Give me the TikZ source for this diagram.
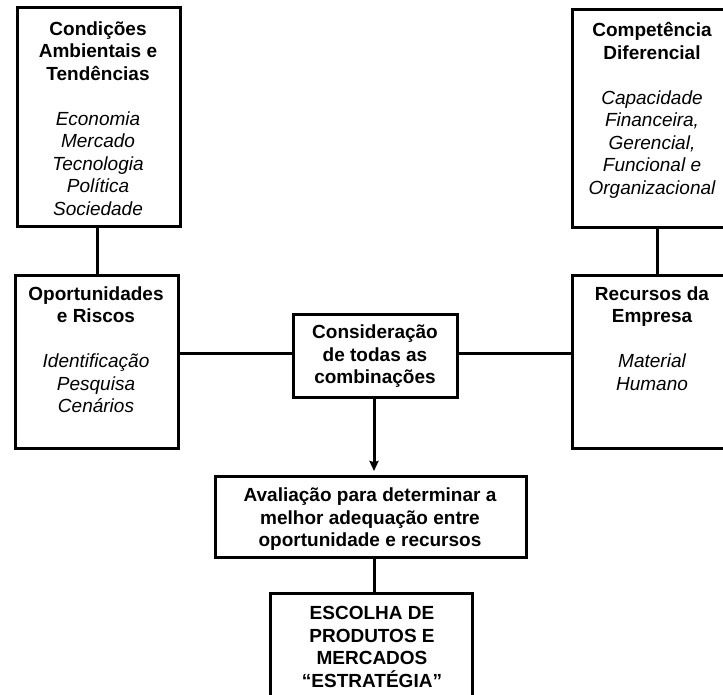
\documentclass[tikz,border=0pt]{standalone}
\usepackage{fontspec}
\setmainfont{Liberation Sans}
\usetikzlibrary{arrows.meta}
\begin{document}
\begin{tikzpicture}[x=1pt,y=-1pt,
  box/.style={draw=black, line width=3pt, fill=white, inner sep=0pt, outer sep=0pt},
  txt/.style={anchor=north, align=center, inner sep=0pt, text=black,
              font=\fontsize{19}{22.5}\selectfont},
  link/.style={line width=3pt, line cap=rect},
  arrow/.style={line width=3pt, -{Stealth[length=10pt,width=9pt,inset=1pt]}, shorten >=5pt}
]
\newcommand\firstline{\rule{0pt}{18pt}}
\useasboundingbox (0,0) rectangle (723,695);
\clip (0,0) rectangle (723,695);

% guide coordinates for the connectors
\coordinate (hl) at (0,353);
\coordinate (vl) at (374,0);
\coordinate (condx) at (97,0);
\coordinate (compx) at (657,0);

% boxes
\node[box, anchor=north west, minimum width=163pt, minimum height=219pt] (cond) at (17,8) {};
\node[box, anchor=north west, minimum width=168pt, minimum height=218pt] (comp) at (572,10) {};
\node[box, anchor=north west, minimum width=163pt, minimum height=173pt] (oport) at (15,275) {};
\node[box, anchor=north west, minimum width=168pt, minimum height=173pt] (recur) at (572,275) {};
\node[box, anchor=north west, minimum width=164pt, minimum height=83pt] (consid) at (293,314) {};
\node[box, anchor=north west, minimum width=311pt, minimum height=81pt] (aval) at (215,476) {};
\node[box, anchor=north west, minimum width=202pt, minimum height=130pt] (escolha) at (270,593) {};

% box texts
\node[txt] (tcond) at (98,17) {\firstline\bfseries Condições\\ \bfseries Ambientais e\\ \bfseries Tendências\\[22.5pt]
  \itshape Economia\\ \itshape Mercado\\ \itshape Tecnologia\\ \itshape Política\\ \itshape Sociedade};
\node[txt] (tcomp) at (652,18.6) {\firstline\bfseries Competência\\ \bfseries Diferencial\\[22.5pt]
  \itshape Capacidade\\ \itshape Financeira,\\ \itshape Gerencial,\\ \itshape Funcional e\\ \itshape Organizacional};
\node[txt] (toport) at (96,282) {\firstline\bfseries Oportunidades\\ \bfseries e Riscos\\[22.5pt]
  \itshape Identificação\\ \itshape Pesquisa\\ \itshape Cenários};
\node[txt] (trecur) at (652,282) {\firstline\bfseries Recursos da\\ \bfseries Empresa\\[22.5pt]
  \itshape Material\\ \itshape Humano};
\node[txt] (tconsid) at (375,320.6) {\firstline\bfseries Consideração\\ \bfseries de todas as\\ \bfseries combinações};
\node[txt] (taval) at (370,483.6) {\firstline\bfseries Avaliação para determinar a\\ \bfseries melhor adequação entre\\ \bfseries oportunidade e recursos};
\node[txt] (tesc) at (372,601.6) {\firstline\bfseries ESCOLHA DE\\ \bfseries PRODUTOS E\\ \bfseries MERCADOS\\ \bfseries “ESTRATÉGIA”};

% connectors
\draw[link] (cond.south -| condx) -- (oport.north -| condx);
\draw[link] (comp.south -| compx) -- (recur.north -| compx);
\draw[link] (oport.east |- hl) -- (consid.west |- hl);
\draw[link] (consid.east |- hl) -- (recur.west |- hl);
\draw[arrow] (consid.south -| vl) -- (aval.north -| vl);
\draw[link] (aval.south -| vl) -- (escolha.north -| vl);
\end{tikzpicture}
\end{document}
